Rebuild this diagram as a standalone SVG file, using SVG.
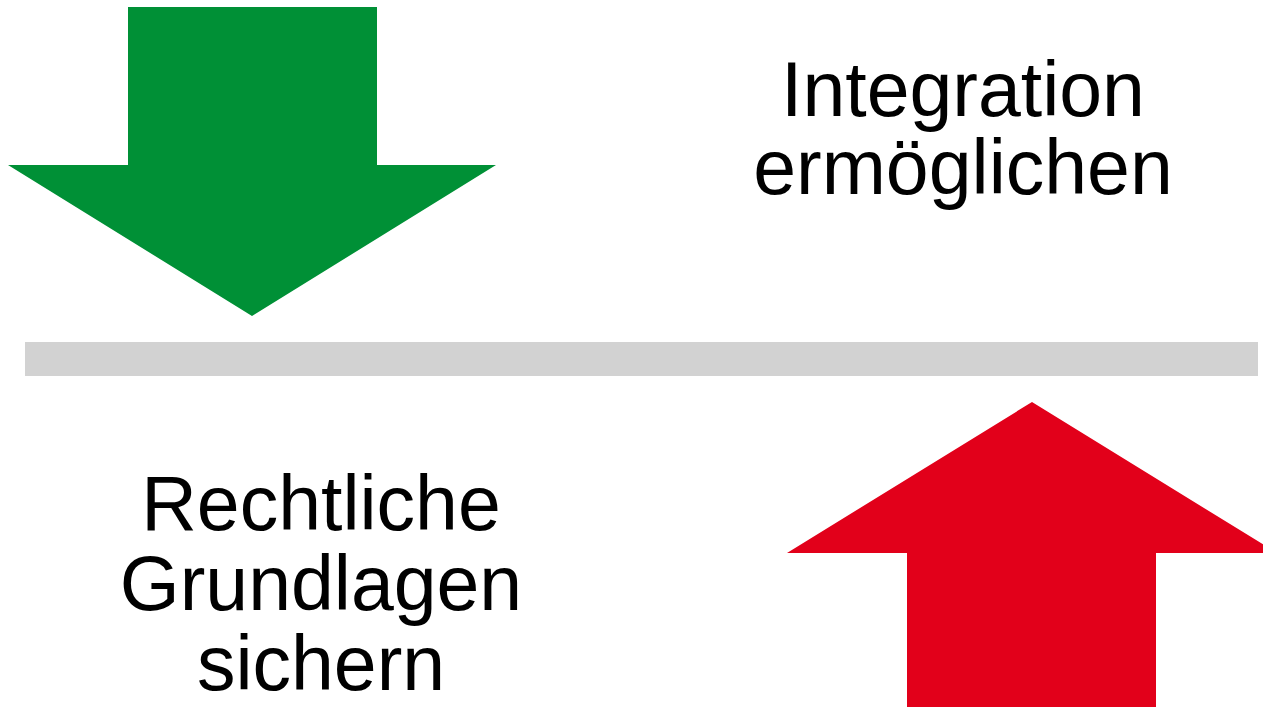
<svg xmlns="http://www.w3.org/2000/svg" width="1263" height="707" viewBox="0 0 1263 707">
<style>
.t{font-family:"Liberation Sans",Arial,sans-serif;font-size:77px;fill:#000;text-anchor:middle}
</style>
<rect width="1263" height="707" fill="#fff"/>
<g id="green-arrow"><polygon points="128,7 377,7 377,165 496,165 252,316 8,165 128,165" fill="#009036"/></g>
<g id="bar"><rect x="25" y="342" width="1233" height="34" fill="#d2d2d2"/></g>
<g id="red-arrow"><polygon points="1032,402 1277,553 1156,553 1156,707 907,707 907,553 787,553" fill="#e2001a"/></g>
<g id="label-top"><text class="t" x="963" y="116">Integration</text><text class="t" x="963" y="194">ermöglichen</text></g>
<g id="label-bottom"><text class="t" x="321" y="530">Rechtliche</text><text class="t" x="321" y="610">Grundlagen</text><text class="t" x="321" y="690">sichern</text></g>
<g id="connectors"/>
</svg>
